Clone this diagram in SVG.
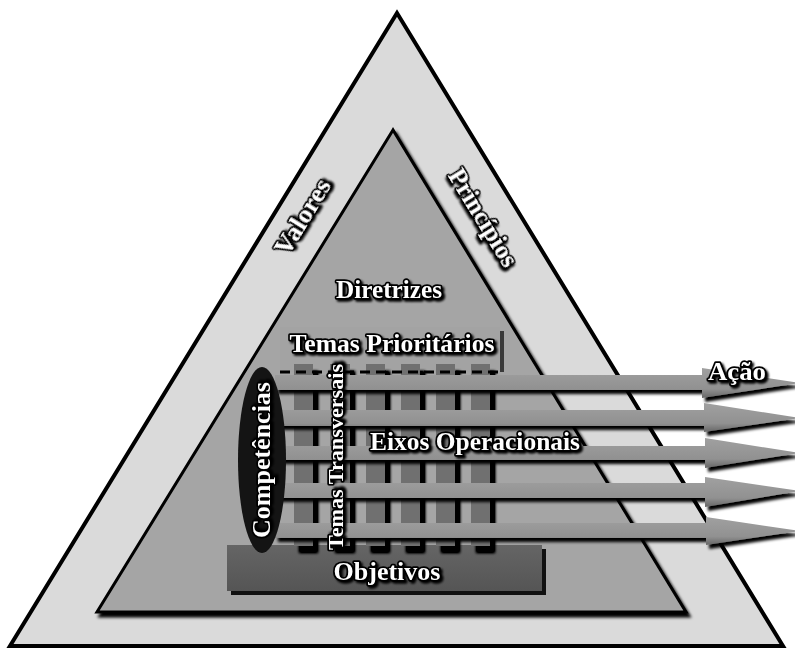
<svg xmlns="http://www.w3.org/2000/svg" width="795" height="648" viewBox="0 0 795 648">
  <style>
    .lbl { font-family: "Liberation Serif", "Times New Roman", serif; font-weight: bold; fill: #ffffff; stroke: #000000; stroke-width: 3.4; stroke-linejoin: round; paint-order: stroke; text-anchor: middle; filter: url(#txtShadow); }
    .col { fill: #6f6f6f; }
  </style>
  <defs>
    <filter id="dropShadow" x="-10%" y="-10%" width="130%" height="130%">
      <feGaussianBlur in="SourceAlpha" stdDeviation="1.5"/>
      <feOffset dx="3" dy="4" result="b"/>
      <feMerge><feMergeNode in="b"/><feMergeNode in="SourceGraphic"/></feMerge>
    </filter>
    <filter id="colShadow" x="-50%" y="-10%" width="250%" height="130%">
      <feGaussianBlur in="SourceAlpha" stdDeviation="1.6"/>
      <feOffset dx="5" dy="7" result="b"/>
      <feComponentTransfer in="b" result="c"><feFuncA type="linear" slope="1.6"/></feComponentTransfer>
      <feMerge><feMergeNode in="c"/><feMergeNode in="SourceGraphic"/></feMerge>
    </filter>
    <filter id="txtShadow" x="-10%" y="-20%" width="130%" height="150%">
      <feGaussianBlur in="SourceAlpha" stdDeviation="1"/>
      <feOffset dx="2" dy="2" result="b"/>
      <feMerge><feMergeNode in="b"/><feMergeNode in="SourceGraphic"/></feMerge>
    </filter>
    <linearGradient id="barGrad" x1="0" y1="0" x2="0" y2="1">
      <stop offset="0" stop-color="#a0a0a0"/>
      <stop offset="0.7" stop-color="#919191"/>
      <stop offset="1" stop-color="#666666"/>
    </linearGradient>
    <linearGradient id="objGrad" x1="0" y1="0" x2="0" y2="1">
      <stop offset="0" stop-color="#656565"/>
      <stop offset="1" stop-color="#555555"/>
    </linearGradient>
  </defs>

  <rect width="795" height="648" fill="#ffffff"/>

  <!-- outer layer: values and principles -->
  <g id="outer-triangle">
    <polygon points="397,13 10,646 783,646" fill="#dadada" stroke="#000" stroke-width="4" stroke-linejoin="miter"/>
    <text class="lbl" font-size="25" transform="translate(303,217) rotate(-58.6)" y="8" textLength="84" lengthAdjust="spacingAndGlyphs">Valores</text>
    <text class="lbl" font-size="25" transform="translate(483,218) rotate(58.6)" y="8" textLength="110" lengthAdjust="spacingAndGlyphs">Princípios</text>
  </g>

  <!-- inner layer: guidelines -->
  <g id="inner-triangle">
    <polygon points="393,130 97,612 686,612" fill="#a5a5a5" stroke="#000" stroke-width="3" filter="url(#dropShadow)"/>
    <text class="lbl" font-size="25" x="389" y="298" textLength="106" lengthAdjust="spacingAndGlyphs">Diretrizes</text>
  </g>

  <!-- base block: objectives -->
  <g id="objetivos">
    <rect x="231" y="549" width="315" height="46" fill="#111"/>
    <rect x="227" y="545" width="315" height="46" fill="url(#objGrad)"/>
  </g>

  <!-- priority themes header -->
  <g id="temas-prioritarios">
    <rect x="284" y="331" width="220" height="41" fill="#3a3a3a"/>
    <rect x="280" y="327" width="220" height="45" fill="#a3a3a3"/>
  </g>

  <!-- vertical columns under the priority themes -->
  <g id="colunas">
    <g filter="url(#colShadow)">
      <rect class="col" x="294" y="364" width="19" height="182"/>
      <rect class="col" x="330" y="364" width="20" height="182"/>
      <rect class="col" x="366" y="364" width="19" height="182"/>
      <rect class="col" x="401" y="364" width="19" height="182"/>
      <rect class="col" x="436" y="364" width="19" height="182"/>
      <rect class="col" x="471" y="364" width="19" height="182"/>
    </g>
    <line x1="280" y1="372" x2="500" y2="372" stroke="#000" stroke-width="3" stroke-dasharray="10,6"/>
  </g>

  <!-- operational axes as arrows -->
  <g id="eixos">
    <g filter="url(#dropShadow)">
      <polygon points="275,375 702,375 702,368 800,383 702,398 702,390 275,390" fill="url(#barGrad)"/>
      <polygon points="275,410 704,410 704,403 800,418 704,432 704,426 275,426" fill="url(#barGrad)"/>
      <polygon points="275,446 705,446 705,438 800,453 705,468 705,460 275,460" fill="url(#barGrad)"/>
      <polygon points="275,483 705,483 705,477 800,491 705,507 705,498 275,498" fill="url(#barGrad)"/>
      <polygon points="275,523 706,523 706,517 800,531 706,545 706,538 275,538" fill="url(#barGrad)"/>
    </g>
  </g>

  <!-- competences -->
  <g id="competencias">
    <ellipse cx="262" cy="460" rx="24" ry="93" fill="#141414"/>
    <text class="lbl" font-size="25" transform="translate(262,460) rotate(-90)" y="8" textLength="156" lengthAdjust="spacingAndGlyphs">Competências</text>
  </g>

  <!-- labels -->
  <g id="temas-transversais">
    <text class="lbl" font-size="22" transform="translate(336,457) rotate(-90)" y="7" textLength="186" lengthAdjust="spacingAndGlyphs">Temas Transversais</text>
  </g>
  <g id="rotulos">
    <text class="lbl" font-size="25" x="392" y="352" textLength="205" lengthAdjust="spacingAndGlyphs">Temas Prioritários</text>
    <text class="lbl" font-size="25" x="475" y="450" textLength="210" lengthAdjust="spacingAndGlyphs">Eixos Operacionais</text>
    <text class="lbl" font-size="25" x="387" y="580" textLength="107" lengthAdjust="spacingAndGlyphs">Objetivos</text>
    <text class="lbl" font-size="25" x="737" y="380" textLength="58" lengthAdjust="spacingAndGlyphs">Ação</text>
  </g>
</svg>
